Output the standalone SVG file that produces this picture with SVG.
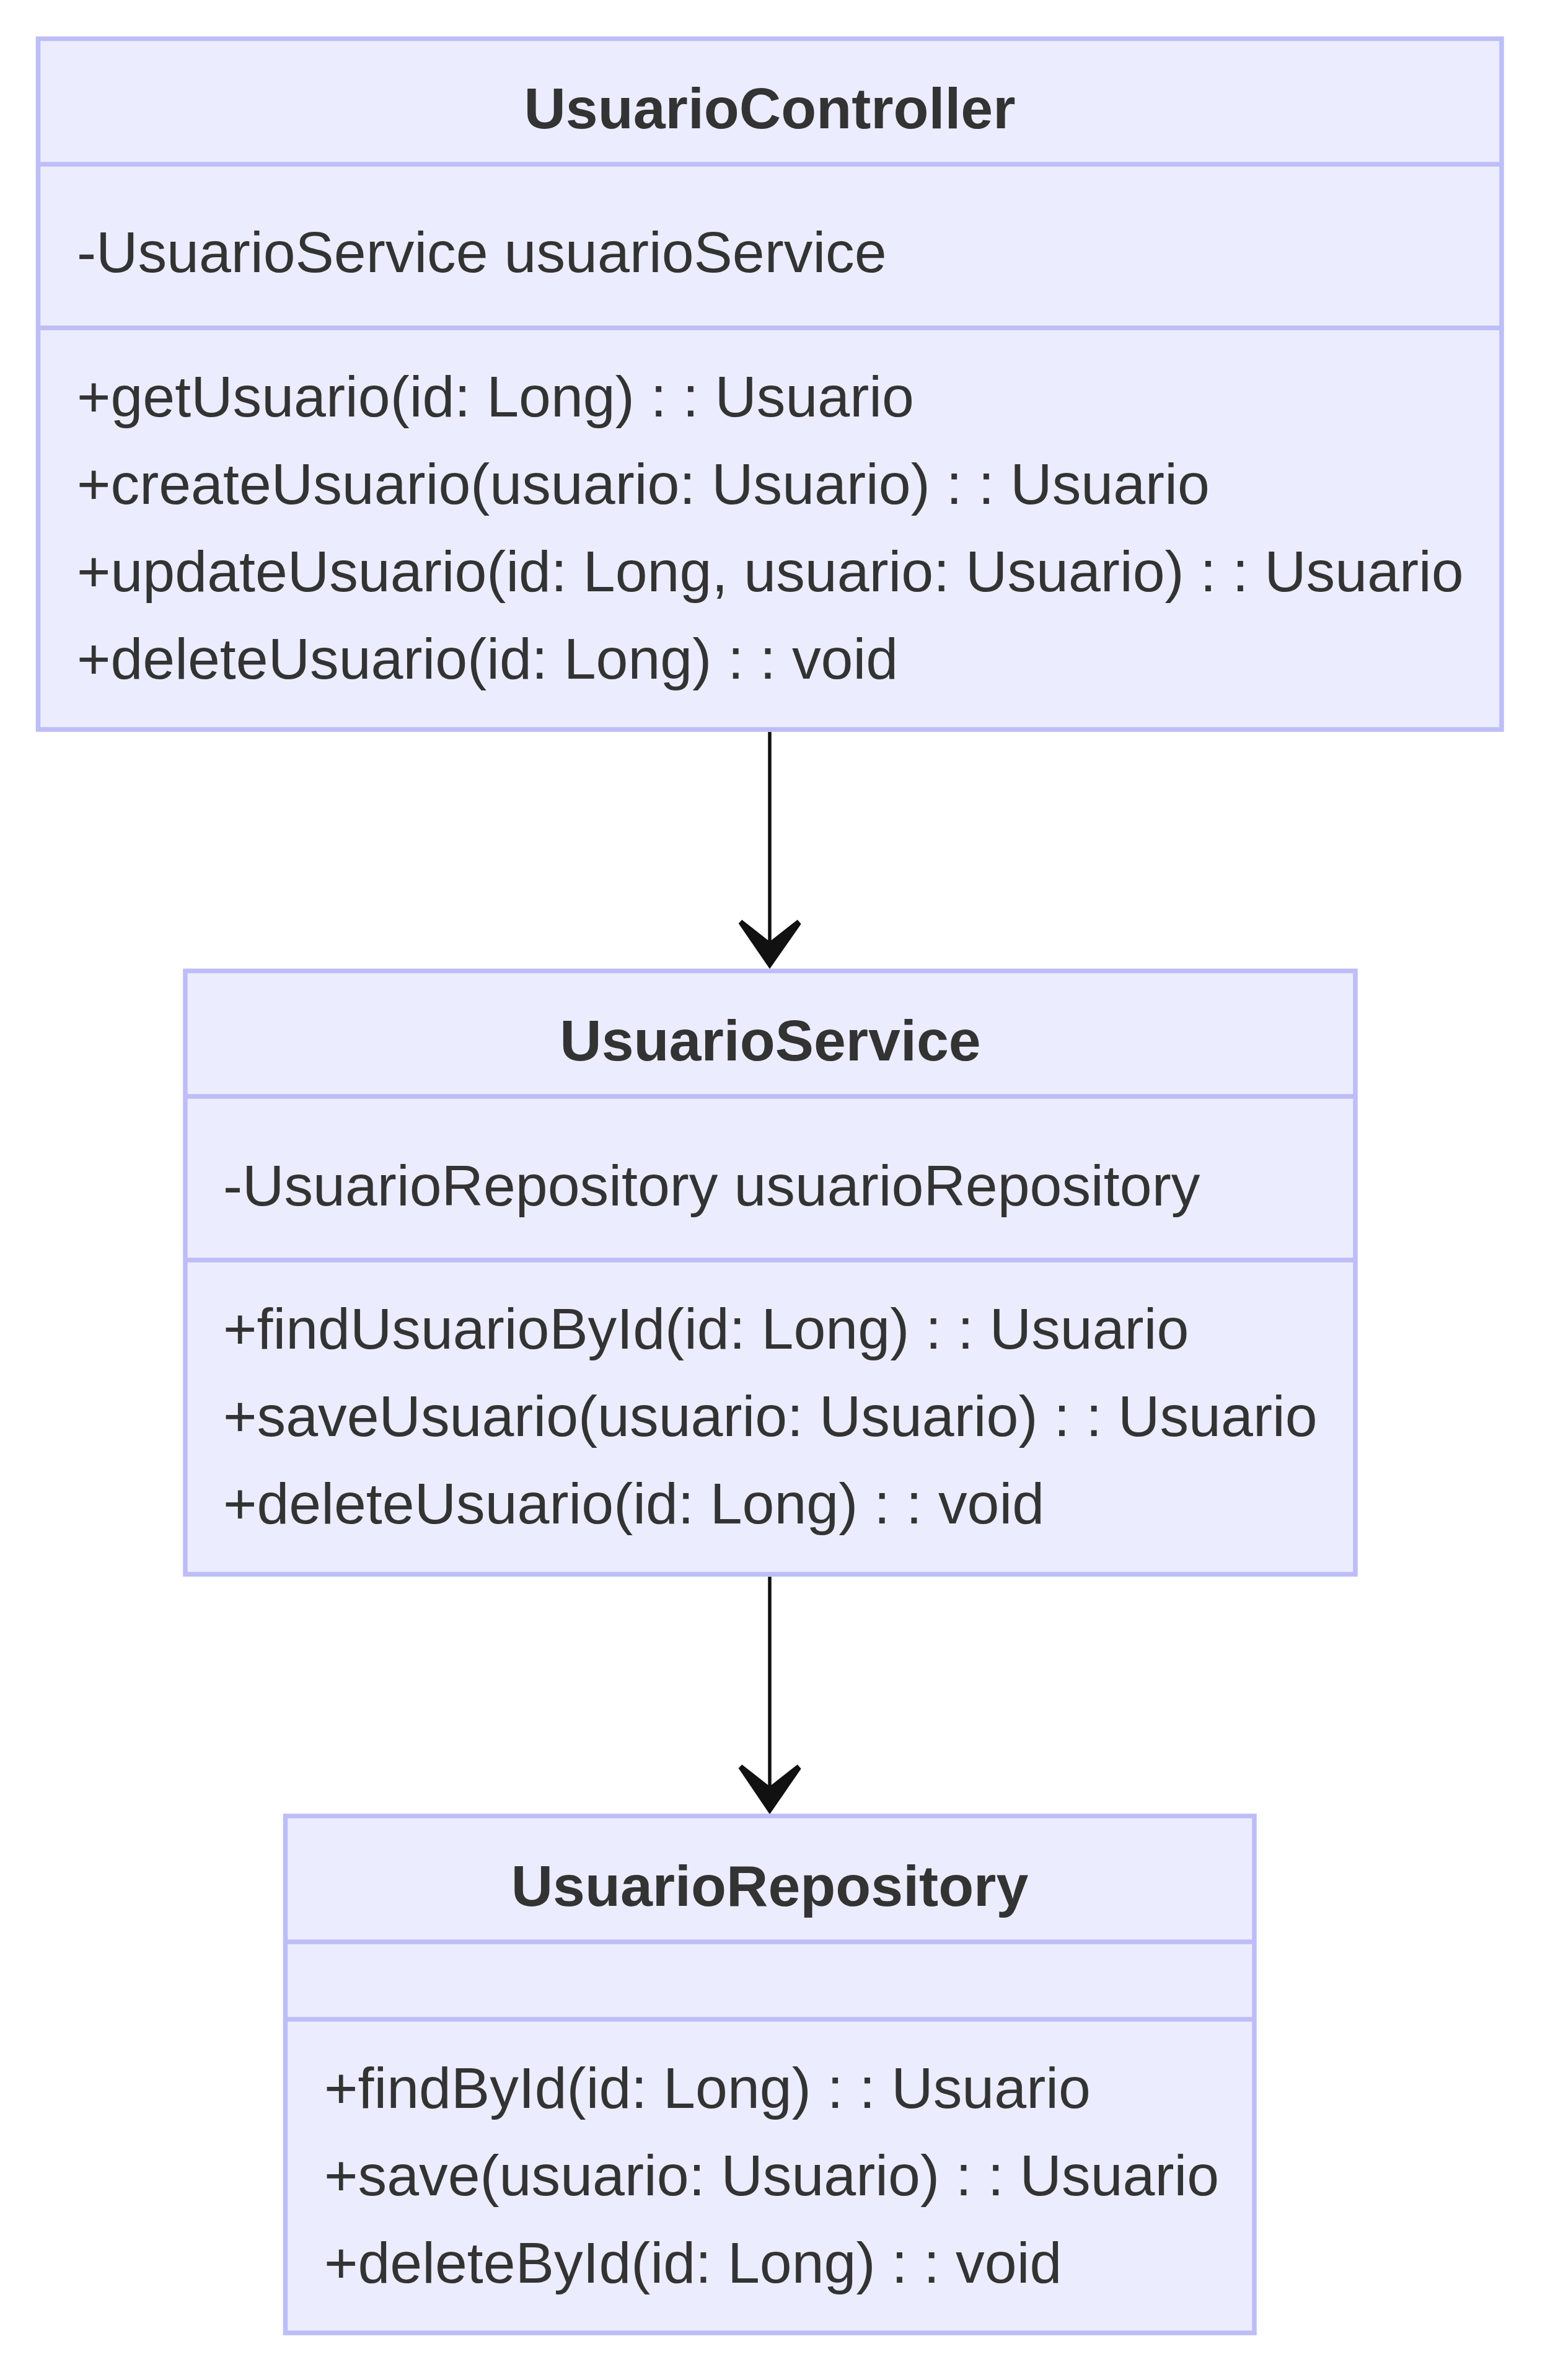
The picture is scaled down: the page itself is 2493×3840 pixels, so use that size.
<svg xmlns="http://www.w3.org/2000/svg" width="2493" height="3840" viewBox="0 0 2493 3840">
<style>
.box{fill:#ECECFF;stroke:#BDBDF7;stroke-width:7.5}
.div{stroke:#BDBDF7;stroke-width:7.5}
text{font-family:"Liberation Sans",Arial,sans-serif;font-size:93.3px;fill:#333333}
.title{font-weight:bold;text-anchor:middle}
.edge{stroke:#111111;stroke-width:5.5;fill:none}
.head{fill:#111111;stroke:#111111;stroke-width:1.5;stroke-linejoin:miter}
</style>
<rect width="2493" height="3840" fill="#FFFFFF"/>
<g id="connectors">
<g id="edge-controller-service">
<line class="edge" x1="1242" y1="1181" x2="1242" y2="1522"/>
<polygon class="head" points="1192.7,1490 1197.3,1485 1242,1520 1286.7,1485 1291.7,1490.7 1242,1562"/>
</g>
<g id="edge-service-repository">
<line class="edge" x1="1242" y1="2544" x2="1242" y2="2884"/>
<polygon class="head" points="1192.7,2853 1197.3,2848 1242,2883 1286.7,2848 1291.7,2853.7 1242,2926"/>
</g>
</g>
<g id="UsuarioController">
<rect class="box" x="61.5" y="62.5" width="2361.5" height="1114.5"/>
<line class="div" x1="61.5" y1="265" x2="2423" y2="265"/>
<line class="div" x1="61.5" y1="529" x2="2423" y2="529"/>
<text class="title" x="1242" y="207">UsuarioController</text>
<text x="124" y="439">-UsuarioService usuarioService</text>
<text x="124" y="672">+getUsuario(id: Long) : : Usuario</text>
<text x="124" y="813">+createUsuario(usuario: Usuario) : : Usuario</text>
<text x="124" y="954">+updateUsuario(id: Long, usuario: Usuario) : : Usuario</text>
<text x="124" y="1095">+deleteUsuario(id: Long) : : void</text>
</g>
<g id="UsuarioService">
<rect class="box" x="299" y="1566.5" width="1888" height="973.5"/>
<line class="div" x1="299" y1="1769" x2="2187" y2="1769"/>
<line class="div" x1="299" y1="2033" x2="2187" y2="2033"/>
<text class="title" x="1243" y="1711">UsuarioService</text>
<text x="360" y="1945">-UsuarioRepository usuarioRepository</text>
<text x="360" y="2176">+findUsuarioById(id: Long) : : Usuario</text>
<text x="360" y="2317">+saveUsuario(usuario: Usuario) : : Usuario</text>
<text x="360" y="2458">+deleteUsuario(id: Long) : : void</text>
</g>
<g id="UsuarioRepository">
<rect class="box" x="460.5" y="2930" width="1563.5" height="834"/>
<line class="div" x1="460.5" y1="3133" x2="2024" y2="3133"/>
<line class="div" x1="460.5" y1="3258" x2="2024" y2="3258"/>
<text class="title" x="1242" y="3075">UsuarioRepository</text>
<text x="523" y="3401">+findById(id: Long) : : Usuario</text>
<text x="523" y="3542">+save(usuario: Usuario) : : Usuario</text>
<text x="523" y="3683">+deleteById(id: Long) : : void</text>
</g>
</svg>
